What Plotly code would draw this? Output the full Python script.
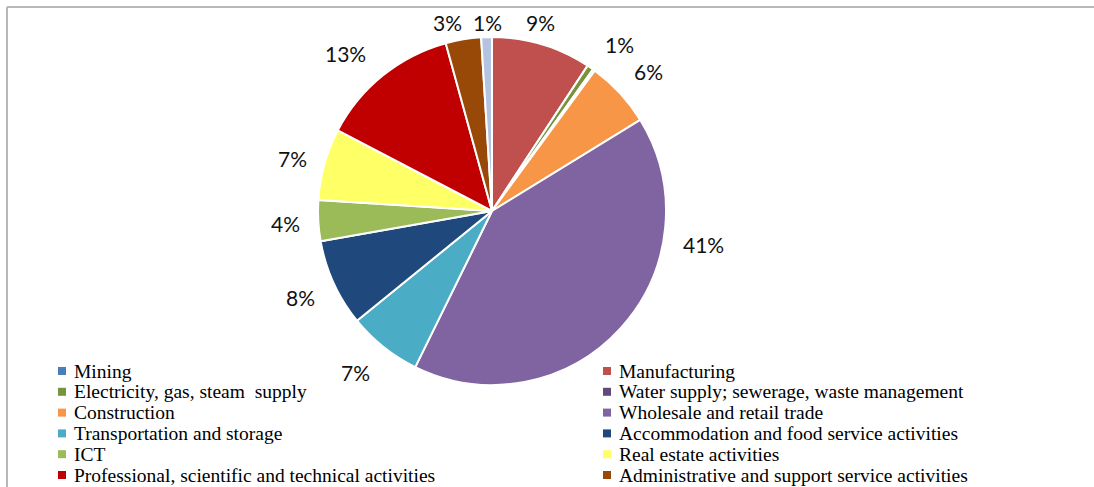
import plotly.graph_objects as go

# Share of enterprises by economic activity (%)
categories = [
    "Mining",
    "Manufacturing",
    "Electricity, gas, steam  supply",
    "Water supply; sewerage, waste management",
    "Construction",
    "Wholesale and retail trade",
    "Transportation and storage",
    "Accommodation and food service activities",
    "ICT",
    "Real estate activities",
    "Professional, scientific and technical activities",
    "Administrative and support service activities",
    "Other service activities",
]
values = [0.0, 9.3, 0.6, 0.2, 6.2, 41.2, 6.9, 8.1, 3.8, 6.7, 13.1, 3.3, 1.0]

colors = [
    "#4A7EBB", "#C0504D", "#77933C", "#604A7B", "#F79646", "#8064A2",
    "#4BACC6", "#1F497D", "#9BBB59", "#FFFF66", "#C00000", "#984807",
    "#B3C3E0",
]

W, H = 1094, 487

# pixel positions of the percentage labels around the pie (None = no label)
label_px = [
    None, (540, 22), (619, 45), None, (648, 72), (703, 245),
    (355, 372), (300, 297), (285, 224), (292, 158), (345, 53),
    (447, 22), (487, 22),
]


def px(x, y):
    return x / W, 1 - y / H


fig = go.Figure(
    go.Pie(
        labels=categories,
        values=values,
        sort=False,
        direction="clockwise",
        rotation=0,
        marker=dict(colors=colors, line=dict(color="white", width=2)),
        textinfo="none",
        hoverinfo="label+percent",
        domain=dict(x=[318 / W, 666 / W], y=[1 - 385 / H, 1 - 37 / H]),
        showlegend=False,
    )
)

total = sum(values)
annotations = []
for v, pos in zip(values, label_px):
    if pos is None:
        continue
    x, y = px(*pos)
    annotations.append(dict(
        x=x, y=y, xref="paper", yref="paper", showarrow=False,
        text=f"{round(v / total * 100)}%",
        font=dict(family="Lato", size=21, color="#111111"),
        xanchor="center", yanchor="middle",
    ))

# two-column legend drawn row by row (rows below the page edge are skipped)
shapes = []
col_marker_x = [58, 603]
col_text_x = [72, 617]
row_y0, row_dy = 371, 20.8
for i, (name, c) in enumerate(zip(categories, colors)):
    col, row = i % 2, i // 2
    cy = row_y0 + row * row_dy
    if cy > H - 10:
        continue
    mx = col_marker_x[col]
    x0, y0 = px(mx, cy - 4)
    x1, y1 = px(mx + 8, cy + 4)
    shapes.append(dict(type="rect", xref="paper", yref="paper",
                       x0=x0, x1=x1, y0=y1, y1=y0,
                       fillcolor=c, line=dict(width=0)))
    tx, ty = px(col_text_x[col], cy)
    annotations.append(dict(
        x=tx, y=ty, xref="paper", yref="paper", showarrow=False,
        text=name, xanchor="left", yanchor="middle",
        font=dict(family="Liberation Serif", size=19.5, color="#000000"),
    ))

# chart frame (top and left edges)
gx0, gy0 = px(7, 7)
shapes.append(dict(type="line", xref="paper", yref="paper",
                   x0=gx0, x1=1.0, y0=gy0, y1=gy0,
                   line=dict(color="#B8B8B8", width=2)))
shapes.append(dict(type="line", xref="paper", yref="paper",
                   x0=gx0, x1=gx0, y0=gy0, y1=0.0,
                   line=dict(color="#B8B8B8", width=2)))

fig.update_layout(
    width=W, height=H,
    margin=dict(l=0, r=0, t=0, b=0),
    paper_bgcolor="white",
    plot_bgcolor="white",
    annotations=annotations,
    shapes=shapes,
)

fig.write_html("out.html")
